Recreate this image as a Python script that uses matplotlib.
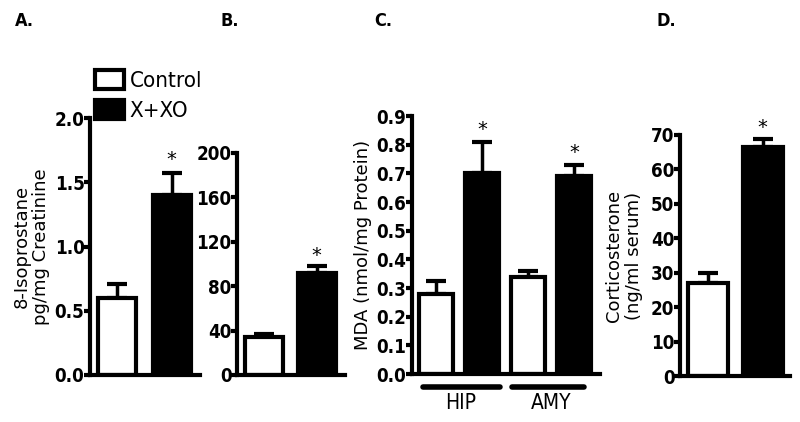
import numpy as np
import matplotlib.pyplot as plt

groups = ["Control", "X+XO"]

iso_mean = [0.60, 1.40]
iso_err = [0.11, 0.17]

b_mean = [34, 92]
b_err = [3, 6]

mda_mean = [0.28, 0.70, 0.34, 0.69]
mda_err = [0.045, 0.11, 0.02, 0.04]
mda_regions = ["HIP", "AMY"]

cort_mean = [27, 66.5]
cort_err = [3, 2.3]

fig = plt.figure(figsize=(8, 4.22), dpi=100)
W, H = 800.0, 422.0
cond = dict(family="DejaVu Sans", stretch="condensed")
tickfont = dict(cond, weight="bold", size=13.5)

def mkax(x0, x1, y0, y1):
    return fig.add_axes([x0 / W, 1 - y0 / H, (x1 - x0) / W, (y0 - y1) / H])

def style(ax, ymax, ticks, labels):
    for s in ["top", "right"]:
        ax.spines[s].set_visible(False)
    for s in ["left", "bottom"]:
        ax.spines[s].set_linewidth(3)
    ax.set_ylim(0, ymax)
    ax.set_yticks(ticks)
    ax.set_yticklabels(labels, **tickfont)
    ax.tick_params(axis="y", length=4, width=3, pad=0)
    ax.set_xticks([])

def bars(ax, means, errs, fills, width):
    x = np.arange(1, len(means) + 1)
    for xi, m, e, c in zip(x, means, errs, fills):
        ax.errorbar(xi, m, yerr=[[0], [e]], fmt="none", ecolor="black",
                    elinewidth=2.5, capsize=7.5, capthick=3, zorder=1)
        ax.bar(xi, m, width=width, color=c, edgecolor="black", linewidth=3, zorder=2)
    return x

fills = ["white", "black"]

# A
axA = mkax(90, 200, 375, 118)
style(axA, 2.0, [0, 0.5, 1.0, 1.5, 2.0], ["0.0", "0.5", "1.0", "1.5", "2.0"])
bars(axA, iso_mean, iso_err, fills, 0.70)
axA.set_xlim(0.5, 2.52)
axA.text(2, iso_mean[1] + iso_err[1] + 0.03, "*", ha="center", va="bottom", fontsize=14)
axA.set_ylabel("8-Isoprostane\npg/mg Creatinine", fontsize=13, linespacing=1.15, labelpad=3)
h1 = plt.Rectangle((0, 0), 1, 1, facecolor="white", edgecolor="black", linewidth=3)
h2 = plt.Rectangle((0, 0), 1, 1, facecolor="black", edgecolor="black", linewidth=3)
fig.legend([h1, h2], groups, loc="upper left", bbox_to_anchor=(95 / W, 1 - 70 / H),
           frameon=False, handlelength=1.3, handleheight=0.95,
           handletextpad=0.25, labelspacing=0.4, borderpad=0, borderaxespad=0,
           prop=dict(cond, size=16))

# B
axB = mkax(237, 345, 375, 153)
style(axB, 200, [0, 40, 80, 120, 160, 200], ["0", "40", "80", "120", "160", "200"])
bars(axB, b_mean, b_err, fills, 0.72)
axB.set_xlim(0.486, 2.54)
axB.text(2, b_mean[1] + b_err[1] + 1, "*", ha="center", va="bottom", fontsize=14)

# C
axC = mkax(412, 600, 374, 116)
style(axC, 0.9, np.arange(0, 0.91, 0.1), ["%.1f" % v for v in np.arange(0, 0.91, 0.1)])
bars(axC, mda_mean, mda_err, fills * 2, 0.74)
axC.set_xlim(0.47, 4.57)
for i in [1, 3]:
    axC.text(i + 1, mda_mean[i] + mda_err[i] + 0.01, "*", ha="center", va="bottom", fontsize=14)
axC.set_ylabel("MDA (nmol/mg Protein)", fontsize=13, labelpad=3)
trans = axC.get_xaxis_transform()
for (a, b), lab, cx in zip([(0.71, 2.38), (2.66, 4.23)], mda_regions, [1.53, 3.5]):
    axC.plot([a, b], [-0.05, -0.05], color="black", linewidth=4, solid_capstyle="round",
             transform=trans, clip_on=False)
    axC.text(cx, -0.075, lab, transform=trans, ha="center", va="top", fontsize=15, **cond)

# D
axD = mkax(680, 790, 376, 135)
style(axD, 70, np.arange(0, 71, 10), [str(v) for v in range(0, 71, 10)])
bars(axD, cort_mean, cort_err, fills, 0.73)
axD.set_xlim(0.49, 2.5)
axD.text(2, cort_mean[1] + cort_err[1] + 0.5, "*", ha="center", va="bottom", fontsize=14)
axD.set_ylabel("Corticosterone\n(ng/ml serum)", fontsize=13, linespacing=1.15, labelpad=6)

for lab, x in zip(["A.", "B.", "C.", "D."], [15, 220, 374, 657]):
    fig.text(x / W, 1 - 21 / H, lab, fontsize=13, fontweight="bold", va="center", **cond)

fig.savefig("out.png", dpi=100, facecolor="white")
